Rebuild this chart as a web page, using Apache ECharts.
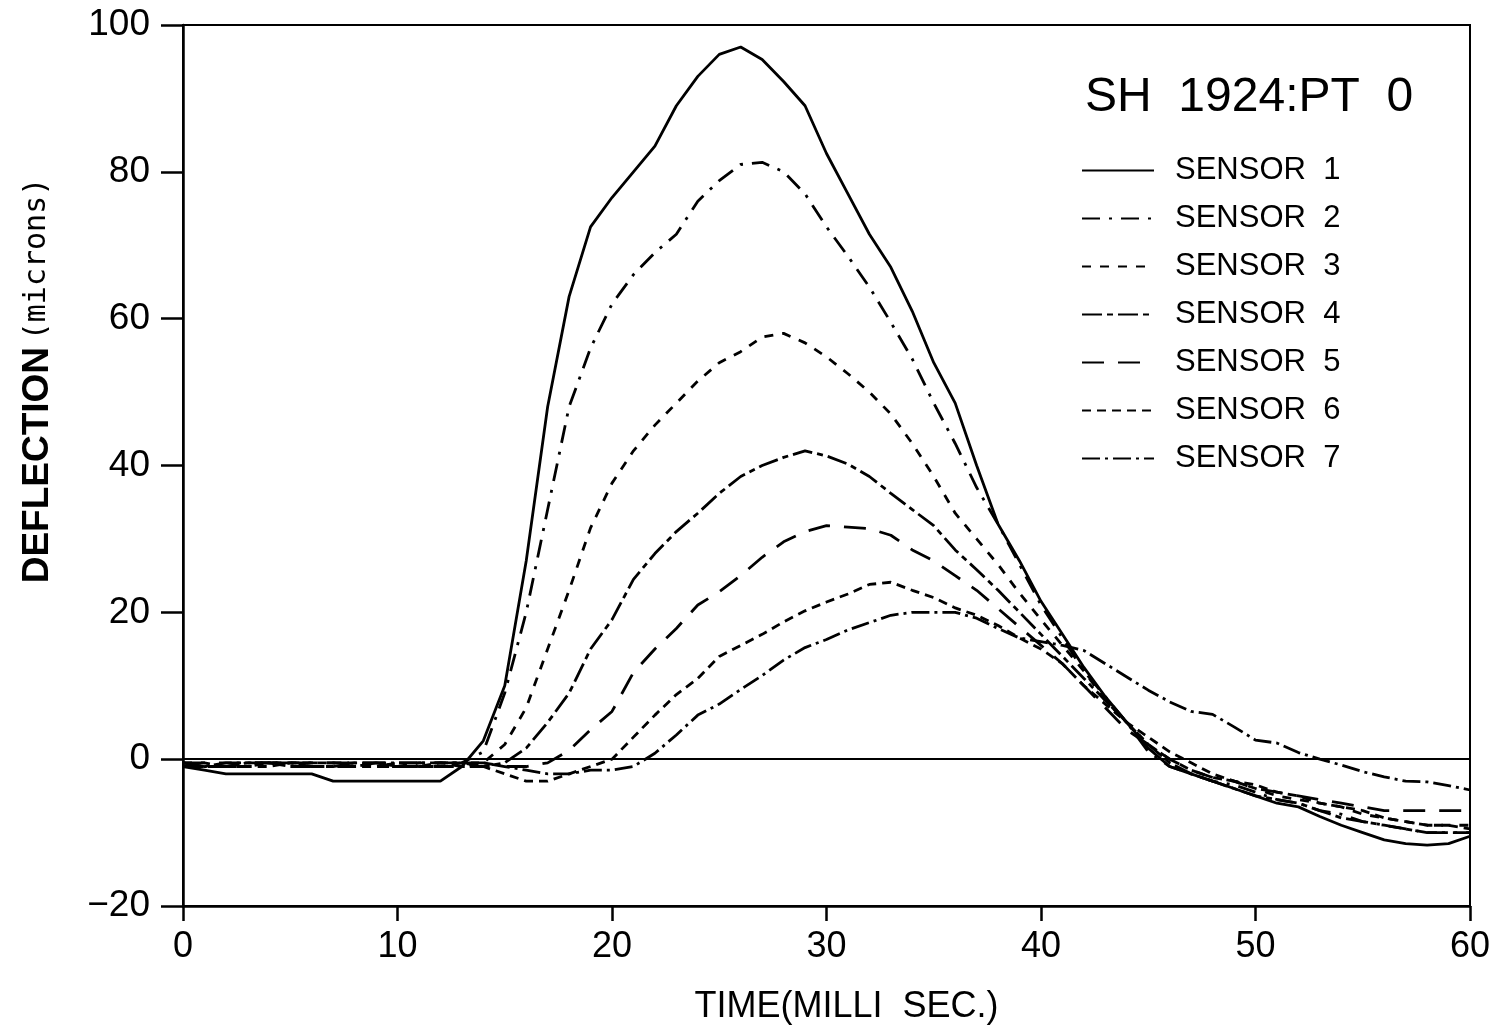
<!DOCTYPE html>
<html>
<head>
<meta charset="utf-8">
<script src="https://cdn.jsdelivr.net/npm/echarts@6/dist/echarts.min.js"></script>
<style>
html,body{margin:0;padding:0;background:#fff;}
#chart{width:1504px;height:1034px;}
</style>
</head>
<body>
<div id="chart"></div>
<script>
// Time in milliseconds (x axis)
const time = [0,1,2,3,4,5,6,7,8,9,10,11,12,13,14,15,16,17,18,19,20,21,22,23,24,25,26,27,28,29,30,31,32,33,34,35,36,37,38,39,40,41,42,43,44,45,46,47,48,49,50,51,52,53,54,55,56,57,58,59,60];

// Deflection (microns) per sensor
const sensor1 = [-1,-1.5,-2,-2,-2,-2,-2,-3,-3,-3,-3,-3,-3,-1,2.5,10,27,48,63,72.5,76.5,80,83.5,89,93,96,97,95.3,92.3,89,82.5,77,71.5,67,61,54,48.5,40,32,27,21.5,17,12.5,8.5,5,1.5,-1,-2,-3,-4,-5,-6,-6.5,-7.8,-9,-10,-11,-11.5,-11.7,-11.5,-10.5];
const sensor2 = [-0.5,-1,-1,-0.5,-0.5,-0.5,-1,-1,-1,-1,-0.5,-1,-1,-0.5,1,9,20,34,48,56,62,66,69,71.5,76,78.8,81,81.3,80,77,72.5,68.5,64.3,59.5,54.5,48.5,43,37,32,26.5,21,16.5,12,8.5,5,1,-1,-2,-3,-3.5,-4.5,-5.5,-6,-7,-7.5,-8.5,-9,-9.5,-10,-10,-10];
const sensor3 = [-0.5,-0.5,-1,-1,-0.5,-0.5,-0.5,-0.5,-1,-1,-1,-0.5,-0.5,-1,-0.5,2,7,15,23,31.5,37.6,42,45.5,48.5,51.5,54,55.5,57.5,58,56.7,54.8,52.5,50,47,43,38.5,33.5,30,26.5,22.6,19,15.5,12,8,5,2,0,-1.5,-2.5,-3,-4,-5,-5.5,-6,-6.5,-7.5,-8,-8.5,-9,-9,-9];
const sensor4 = [-1,-1,-1,-0.5,-0.5,-1,-1,-1,-0.5,-0.5,-1,-1,-1,-1,-1,-0.5,1.5,5,9,15,19,24.5,28,31,33.5,36.2,38.5,40,41.1,42,41.3,40.2,38.5,36.2,34,31.8,28.5,25.8,23,20,17,14,11,8,5,2,-0.5,-2,-3,-4,-5,-5.5,-6,-7,-8,-8.5,-9,-9.5,-10,-10,-10];
const sensor5 = [-0.5,-0.5,-0.5,-0.5,-0.5,-0.5,-0.5,-0.5,-0.5,-0.5,-0.5,-0.5,-0.5,-0.5,-0.5,-1,-1,-0.5,1.2,4,6.5,11.8,15,17.8,21,22.8,25,27.5,29.6,31,31.8,31.6,31.4,30.5,28.5,27,25,23,20.5,18,15.5,13,10,7,4,2,0,-1.5,-2.5,-3,-4,-4.5,-5,-5.5,-6,-6.5,-7,-7,-7,-7,-7];
const sensor6 = [-0.5,-1,-1,-1,-1,-0.5,-0.5,-0.5,-0.5,-1,-1,-1,-0.5,-0.5,-1,-2,-3,-3,-2,-1,0,3,6,8.8,11,14,15.5,17,18.7,20.2,21.4,22.5,23.8,24.1,23,22,20.6,19.6,18.2,16.5,15,13,10,7.5,5,3,1,-0.5,-2,-3,-3.5,-4.5,-5,-6,-6.5,-7,-8,-8.5,-9,-9,-9.5];
const sensor7 = [-1,-1,-0.5,-0.5,-0.5,-0.5,-1,-1,-1,-0.5,-0.5,-0.5,-0.5,-0.5,-0.5,-1,-1.5,-2,-2,-1.5,-1.5,-1,0.8,3.3,6,7.5,9.5,11.4,13.5,15.2,16.3,17.6,18.6,19.6,20,20,20,19.2,17.8,16.5,16,15.5,14.8,13,11.2,9.4,7.8,6.5,6.1,4.4,2.6,2.2,0.9,0,-0.8,-1.7,-2.4,-3,-3.1,-3.6,-4.2];

const sensorNames = ['SENSOR  1','SENSOR  2','SENSOR  3','SENSOR  4','SENSOR  5','SENSOR  6','SENSOR  7'];
const sensorValues = [sensor1,sensor2,sensor3,sensor4,sensor5,sensor6,sensor7];
const dashPatterns = ['solid',[18,9,3,9],[9,9],[20,5,6,5],[22,14],[9,6],[18,5,3,5]];

const FONT = '"Liberation Sans", Arial, sans-serif';

const series = sensorNames.map((name, k) => {
  const s = {
    name: name,
    type: 'line',
    data: time.map((t, i) => [t, sensorValues[k][i]]),
    showSymbol: false,
    symbol: 'none',
    smooth: false,
    lineStyle: {color: '#000', width: 2.8, type: dashPatterns[k]},
    itemStyle: {color: '#000'},
    z: 3
  };
  if (k === 0) {
    s.markLine = {
      silent: true,
      symbol: 'none',
      label: {show: false},
      lineStyle: {color: '#000', width: 2, type: 'solid'},
      data: [{yAxis: 0}]
    };
  }
  return s;
});

const minusFmt = v => (v < 0 ? '\u2212' + Math.abs(v) : String(v));

const chart = echarts.init(document.getElementById('chart'), null, {renderer: 'canvas'});
chart.setOption({
  animation: false,
  backgroundColor: '#fff',
  textStyle: {fontFamily: FONT, color: '#000'},
  title: {
    text: 'SH  1924:PT  0',
    left: 1080,
    top: 69,
    textStyle: {fontFamily: FONT, fontSize: 48, fontWeight: 'normal', color: '#000'}
  },
  legend: {
    orient: 'vertical',
    left: 1076,
    top: 150,
    itemWidth: 72,
    itemHeight: 22,
    itemGap: 17,
    itemStyle: {color: 'rgba(0,0,0,0)', borderColor: 'rgba(0,0,0,0)', borderWidth: 0, opacity: 0},
    textStyle: {fontFamily: FONT, fontSize: 31, color: '#000', padding: [0,0,0,16]},
    data: sensorNames
  },
  grid: {
    left: 183,
    top: 25,
    width: 1287,
    height: 881,
    show: true,
    borderColor: '#000',
    borderWidth: 2,
    backgroundColor: 'transparent'
  },
  xAxis: {
    type: 'value',
    min: 0,
    max: 60,
    interval: 10,
    name: 'TIME(MILLI  SEC.)',
    nameLocation: 'middle',
    nameGap: 83,
    nameTextStyle: {fontFamily: FONT, fontSize: 36, color: '#000', padding: [0,0,0,40]},
    axisLine: {show: true, onZero: false, lineStyle: {color: '#000', width: 2.5}},
    axisTick: {show: true, inside: false, length: 15, lineStyle: {color: '#000', width: 2.5}},
    axisLabel: {fontFamily: FONT, fontSize: 36, color: '#000', margin: 23},
    splitLine: {show: false}
  },
  yAxis: {
    type: 'value',
    min: -20,
    max: 100,
    interval: 20,
    name: '{a|DEFLECTION}  {b|(microns)}',
    nameLocation: 'middle',
    nameRotate: 90,
    nameGap: 127,
    nameTextStyle: {
      padding: [0,0,0,170],
      rich: {
        a: {fontFamily: FONT, fontSize: 37, fontWeight: 'bold', color: '#000'},
        b: {fontFamily: '"DejaVu Sans Mono", monospace', fontSize: 30, color: '#000'}
      }
    },
    axisLine: {show: true, onZero: false, lineStyle: {color: '#000', width: 2.5}},
    axisTick: {show: true, inside: false, length: 22, lineStyle: {color: '#000', width: 2.5}},
    axisLabel: {fontFamily: FONT, fontSize: 37, color: '#000', margin: 33, formatter: minusFmt},
    splitLine: {show: false}
  },
  series: series
});
</script>
</body>
</html>
